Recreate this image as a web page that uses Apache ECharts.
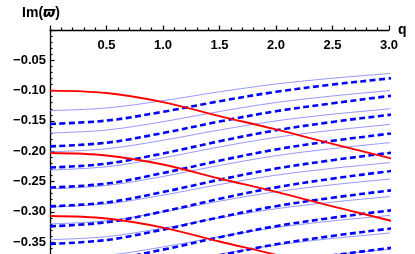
<!DOCTYPE html>
<html><head><meta charset="utf-8">
<script src="https://cdn.jsdelivr.net/npm/echarts@6/dist/echarts.min.js"></script>
<style>html,body{margin:0;padding:0;background:#fff}#c{width:415px;height:254px}</style>
</head><body><div id="c"></div>
<script>
const Q = [0, 0.5, 1.0, 1.5, 2.0, 2.5, 3.0, 3.06];

const red1 = [-0.100, -0.104, -0.119, -0.142, -0.164, -0.188, -0.211, -0.214];
const red2 = [-0.203, -0.207, -0.222, -0.245, -0.267, -0.291, -0.314, -0.318];
const red3 = [-0.307, -0.311, -0.326, -0.349, -0.371, -0.395, -0.418, -0.421];

const dash1 = [-0.155, -0.1495, -0.135, -0.1175, -0.102, -0.090, -0.080, -0.079];
const dash2 = [-0.192, -0.186, -0.170, -0.151, -0.134, -0.121, -0.109, -0.108];
const dash3 = [-0.227, -0.2206, -0.2037, -0.1835, -0.1655, -0.1517, -0.1401, -0.139];
const dash4 = [-0.260, -0.2535, -0.2361, -0.2156, -0.1971, -0.183, -0.1711, -0.170];
const dash5 = [-0.291, -0.2846, -0.2674, -0.247, -0.2287, -0.2148, -0.203, -0.202];
const dash6 = [-0.324, -0.3173, -0.2996, -0.2786, -0.2597, -0.2453, -0.2331, -0.232];
const dash7 = [-0.353, -0.3466, -0.3294, -0.309, -0.2907, -0.2768, -0.265, -0.264];
const dash8 = [-0.386, -0.3796, -0.3624, -0.342, -0.3237, -0.3098, -0.298, -0.297];
const dash9 = [-0.416, -0.4096, -0.3924, -0.372, -0.3537, -0.3398, -0.328, -0.327];
const dash10 = [-0.448, -0.4416, -0.4244, -0.404, -0.3857, -0.3718, -0.360, -0.359];

const thin1 = [-0.133, -0.1287, -0.1166, -0.102, -0.0891, -0.0796, -0.0719, -0.071];
const thin2 = [-0.170, -0.1651, -0.1513, -0.1345, -0.1197, -0.1089, -0.100, -0.099];
const thin3 = [-0.201, -0.196, -0.182, -0.165, -0.150, -0.139, -0.130, -0.128];
const thin4 = [-0.231, -0.2257, -0.2109, -0.193, -0.1771, -0.1655, -0.156, -0.155];
const thin5 = [-0.262, -0.2566, -0.2417, -0.2235, -0.2075, -0.1957, -0.186, -0.185];
const thin6 = [-0.292, -0.2869, -0.2725, -0.255, -0.2396, -0.2283, -0.219, -0.218];
const thin7 = [-0.320, -0.3148, -0.3002, -0.2825, -0.2669, -0.2554, -0.246, -0.245];
const thin8 = [-0.346, -0.341, -0.327, -0.310, -0.295, -0.284, -0.275, -0.2746];
const thin9 = [-0.377, -0.372, -0.358, -0.341, -0.326, -0.315, -0.306, -0.304];
const thin10 = [-0.406, -0.401, -0.387, -0.370, -0.355, -0.344, -0.335, -0.333];
const thin11 = [-0.433, -0.428, -0.414, -0.397, -0.382, -0.371, -0.362, -0.360];

// axis ranges / tick steps
const X_MIN = 0, X_MAX = 3.0, X_STEP = 0.5;
const Y_MIN = -0.40, Y_MAX = 0, Y_STEP = 0.05;
const FONT = '"Liberation Sans", Arial, sans-serif';

function pts(arr) { return arr.map((v, i) => [Q[i], v]); }
function line(arr, kind) {
  const s = { type: 'line', data: pts(arr), showSymbol: false, smooth: 0.35, silent: true, animation: false, clip: false };
  if (kind === 'red') s.lineStyle = { color: '#ff0000', width: 1.9 };
  else if (kind === 'dash') s.lineStyle = { color: '#0000ff', width: 2.6, type: [6, 3.5] };
  else s.lineStyle = { color: '#8c8cff', width: 0.9 };
  s.z = kind === 'red' ? 5 : (kind === 'dash' ? 4 : 3);
  return s;
}

const thins = [thin1, thin2, thin3, thin4, thin5, thin6, thin7, thin8, thin9, thin10, thin11];
const dashes = [dash1, dash2, dash3, dash4, dash5, dash6, dash7, dash8, dash9, dash10];
const reds = [red1, red2, red3];

const series = [];
thins.forEach(a => series.push(line(a, 'thin')));
dashes.forEach(a => series.push(line(a, 'dash')));
reds.forEach(a => series.push(line(a, 'red')));

const lbl = { color: '#000', fontWeight: 'bold', fontSize: 13, fontFamily: FONT };
const tickLine = { color: '#000', width: 1.2 };

const chart = echarts.init(document.getElementById('c'), null, { renderer: 'canvas' });
chart.setOption({
  animation: false,
  grid: { left: 50, right: 26, top: 30, height: 242.4, containLabel: false, outerBoundsMode: 'none' },
  xAxis: {
    type: 'value', min: X_MIN, max: X_MAX, interval: X_STEP, position: 'top',
    axisLine: { show: true, onZero: false, lineStyle: { color: '#000', width: 1.3 } },
    axisTick: { show: true, inside: false, length: 4.5, lineStyle: tickLine },
    minorTick: { show: true, splitNumber: 5, length: 2.5, lineStyle: tickLine },
    axisLabel: Object.assign({ inside: true, margin: 9, showMinLabel: false,
      formatter: v => (Math.abs(v) < 1e-9 ? '' : v.toFixed(1)) }, lbl),
    splitLine: { show: false }, minorSplitLine: { show: false },
    name: 'q', nameLocation: 'end', nameGap: 9,
    nameTextStyle: { color: '#000', fontWeight: 'bold', fontSize: 14, fontFamily: FONT, verticalAlign: 'middle', padding: [10, 0, 0, 0] }
  },
  yAxis: {
    type: 'value', min: Y_MIN, max: Y_MAX, interval: Y_STEP, position: 'left',
    axisLine: { show: true, onZero: false, lineStyle: { color: '#000', width: 1.3 } },
    axisTick: { show: true, inside: true, length: 4.5, lineStyle: tickLine },
    minorTick: { show: true, splitNumber: 5, length: 2.5, lineStyle: tickLine },
    axisLabel: Object.assign({ margin: 4, showMaxLabel: false,
      formatter: v => (Math.abs(v) < 1e-9 ? '' : v.toFixed(2).replace('-', '\u2212')) }, lbl),
    splitLine: { show: false }, minorSplitLine: { show: false },
    name: '{a|Im(}{b|\u03d6}{a|)}', nameLocation: 'end', nameGap: 10,
    nameTextStyle: { align: 'center', padding: [0, 0, 0, -18],
      rich: { a: { color: '#000', fontWeight: 'bold', fontSize: 14, fontFamily: FONT },
              b: { color: '#000', fontWeight: 'bold', fontStyle: 'italic', fontSize: 14, fontFamily: '"DejaVu Sans", sans-serif' } } }
  },
  series: series
});
</script>
</body></html>
